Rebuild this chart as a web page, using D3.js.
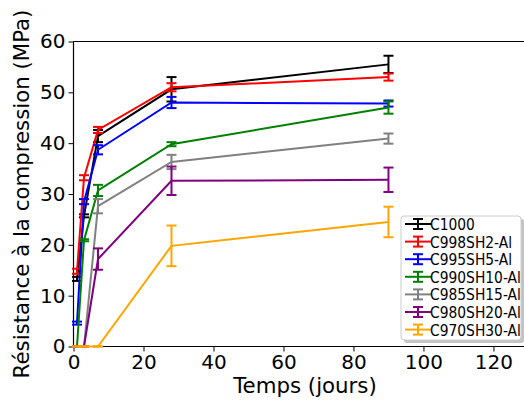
<!DOCTYPE html>
<html><head><meta charset="utf-8">
<script src="https://cdn.jsdelivr.net/npm/d3@7"></script>
<style>body{margin:0;background:#fff;} svg{display:block;font-family:"DejaVu Sans",sans-serif;}</style>
</head><body>
<svg id="c" width="524" height="401"></svg>
<script>
const days = [1, 3, 7, 28, 90];
const seriesNames = ["C1000","C998SH2-Al","C995SH5-Al","C990SH10-Al","C985SH15-Al","C980SH20-Al","C970SH30-Al"];
const seriesColors = ["#000000","#ff0000","#0000ff","#008000","#808080","#800080","#ffa500"];
const c1000 = [13.3, 25.7, 41.4, 50.6, 55.5];
const c1000Err = [0.4, 0.3, 1.2, 2.4, 1.7];
const c998 = [14.8, 33.2, 42.6, 51.0, 53.0];
const c998Err = [0.5, 0.5, 0.6, 0.8, 0.7];
const c995 = [4.6, 28.5, 38.7, 48.0, 47.8];
const c995Err = [0.3, 0.5, 0.9, 1.1, 0.6];
const c990 = [0, 20.9, 30.7, 39.8, 47.0];
const c990Err = [0, 0.2, 1.1, 0.4, 1.2];
const c985 = [0, 0, 27.6, 36.3, 40.9];
const c985Err = [0, 0, 1.4, 1.4, 1.0];
const c980 = [0, 0, 17.2, 32.6, 32.8];
const c980Err = [0, 0, 2.1, 2.8, 2.4];
const c970 = [0, 0, 0, 19.8, 24.5];
const c970Err = [0, 0, 0, 4.0, 3.0];
const xTicks = [0, 20, 40, 60, 80, 100, 120];
const yTicks = [0, 10, 20, 30, 40, 50, 60];

const allValues = [c1000, c998, c995, c990, c985, c980, c970];
const allErrs = [c1000Err, c998Err, c995Err, c990Err, c985Err, c980Err, c970Err];

const svg = d3.select("#c");
const L = 73.5, T = 41.5, B = 346.5, R = 536.5;
const x = d3.scaleLinear().domain([0, 132.3]).range([L, R]);
const y = d3.scaleLinear().domain([0, 60]).range([B, T]);

// axes
const xAxis = svg.append("g").attr("transform", `translate(0,${B})`)
  .call(d3.axisBottom(x).tickValues(xTicks).tickSize(5).tickPadding(3).tickFormat(d3.format("d")));
const yAxis = svg.append("g").attr("transform", `translate(${L},0)`)
  .call(d3.axisLeft(y).tickValues(yTicks).tickSize(5).tickPadding(3).tickFormat(d3.format("d")));
[xAxis, yAxis].forEach(g => {
  g.selectAll("text").attr("font-size", 20).attr("font-family", "DejaVu Sans").attr("fill", "#000");
  g.selectAll("line").attr("stroke", "#000").attr("stroke-width", 1);
  g.select(".domain").remove();
});
svg.append("line").attr("x1", L).attr("x2", L).attr("y1", T).attr("y2", B).attr("stroke", "#000").attr("stroke-width", 1.2);
svg.append("line").attr("x1", L).attr("x2", 524).attr("y1", B).attr("y2", B).attr("stroke", "#000").attr("stroke-width", 1.2);
svg.append("line").attr("x1", L).attr("x2", 524).attr("y1", T).attr("y2", T).attr("stroke", "#000").attr("stroke-width", 1.2);

// labels
svg.append("text").attr("x", 305).attr("y", 393).attr("text-anchor", "middle")
  .attr("font-size", 21.3).text("Temps (jours)");
svg.append("text").attr("transform", `translate(29,${(T + B) / 2}) rotate(-90)`)
  .attr("text-anchor", "middle").attr("font-size", 21.3).text("Résistance à la compression (MPa)");

// series
const line = d3.line().x(d => x(d[0])).y(d => y(d[1]));
const capW = 5;
allValues.forEach((vals, i) => {
  const col = seriesColors[i];
  const errs = allErrs[i];
  const pts = days.map((d, j) => [d, vals[j], errs[j]]);
  const g = svg.append("g");
  g.append("path").attr("d", line(pts)).attr("fill", "none").attr("stroke", col).attr("stroke-width", 2);
  pts.forEach(p => {
    const cx = x(p[0]), y1 = y(p[1] + p[2]), y2 = y(p[1] - p[2]);
    g.append("line").attr("x1", cx).attr("x2", cx).attr("y1", y1).attr("y2", y2).attr("stroke", col).attr("stroke-width", 2);
    [y1, y2].forEach(yy => g.append("line").attr("x1", cx - capW).attr("x2", cx + capW).attr("y1", yy).attr("y2", yy)
      .attr("stroke", col).attr("stroke-width", 2));
  });
});

// legend
const lg = svg.append("g");
const lx = 401, ly = 216, lw = 120, lh = 124;
lg.append("rect").attr("x", lx + 3).attr("y", ly + 3).attr("width", lw).attr("height", lh).attr("rx", 3).attr("fill", "#888").attr("opacity", 0.5);
lg.append("rect").attr("x", lx).attr("y", ly).attr("width", lw).attr("height", lh).attr("rx", 3)
  .attr("fill", "#fff").attr("stroke", "#ccc").attr("stroke-width", 1);
seriesNames.forEach((name, i) => {
  const yy = 224 + i * 17.6;
  const col = seriesColors[i];
  lg.append("line").attr("x1", 405).attr("x2", 431).attr("y1", yy).attr("y2", yy).attr("stroke", col).attr("stroke-width", 2);
  lg.append("line").attr("x1", 418).attr("x2", 418).attr("y1", yy - 5).attr("y2", yy + 5).attr("stroke", col).attr("stroke-width", 2);
  [yy - 5, yy + 5].forEach(v => lg.append("line").attr("x1", 413).attr("x2", 423).attr("y1", v).attr("y2", v).attr("stroke", col).attr("stroke-width", 2));
  lg.append("text").attr("transform", `translate(430,${yy + 6}) scale(0.84,1)`)
    .attr("font-size", 16.5).text(name);
});
</script>
</body></html>
